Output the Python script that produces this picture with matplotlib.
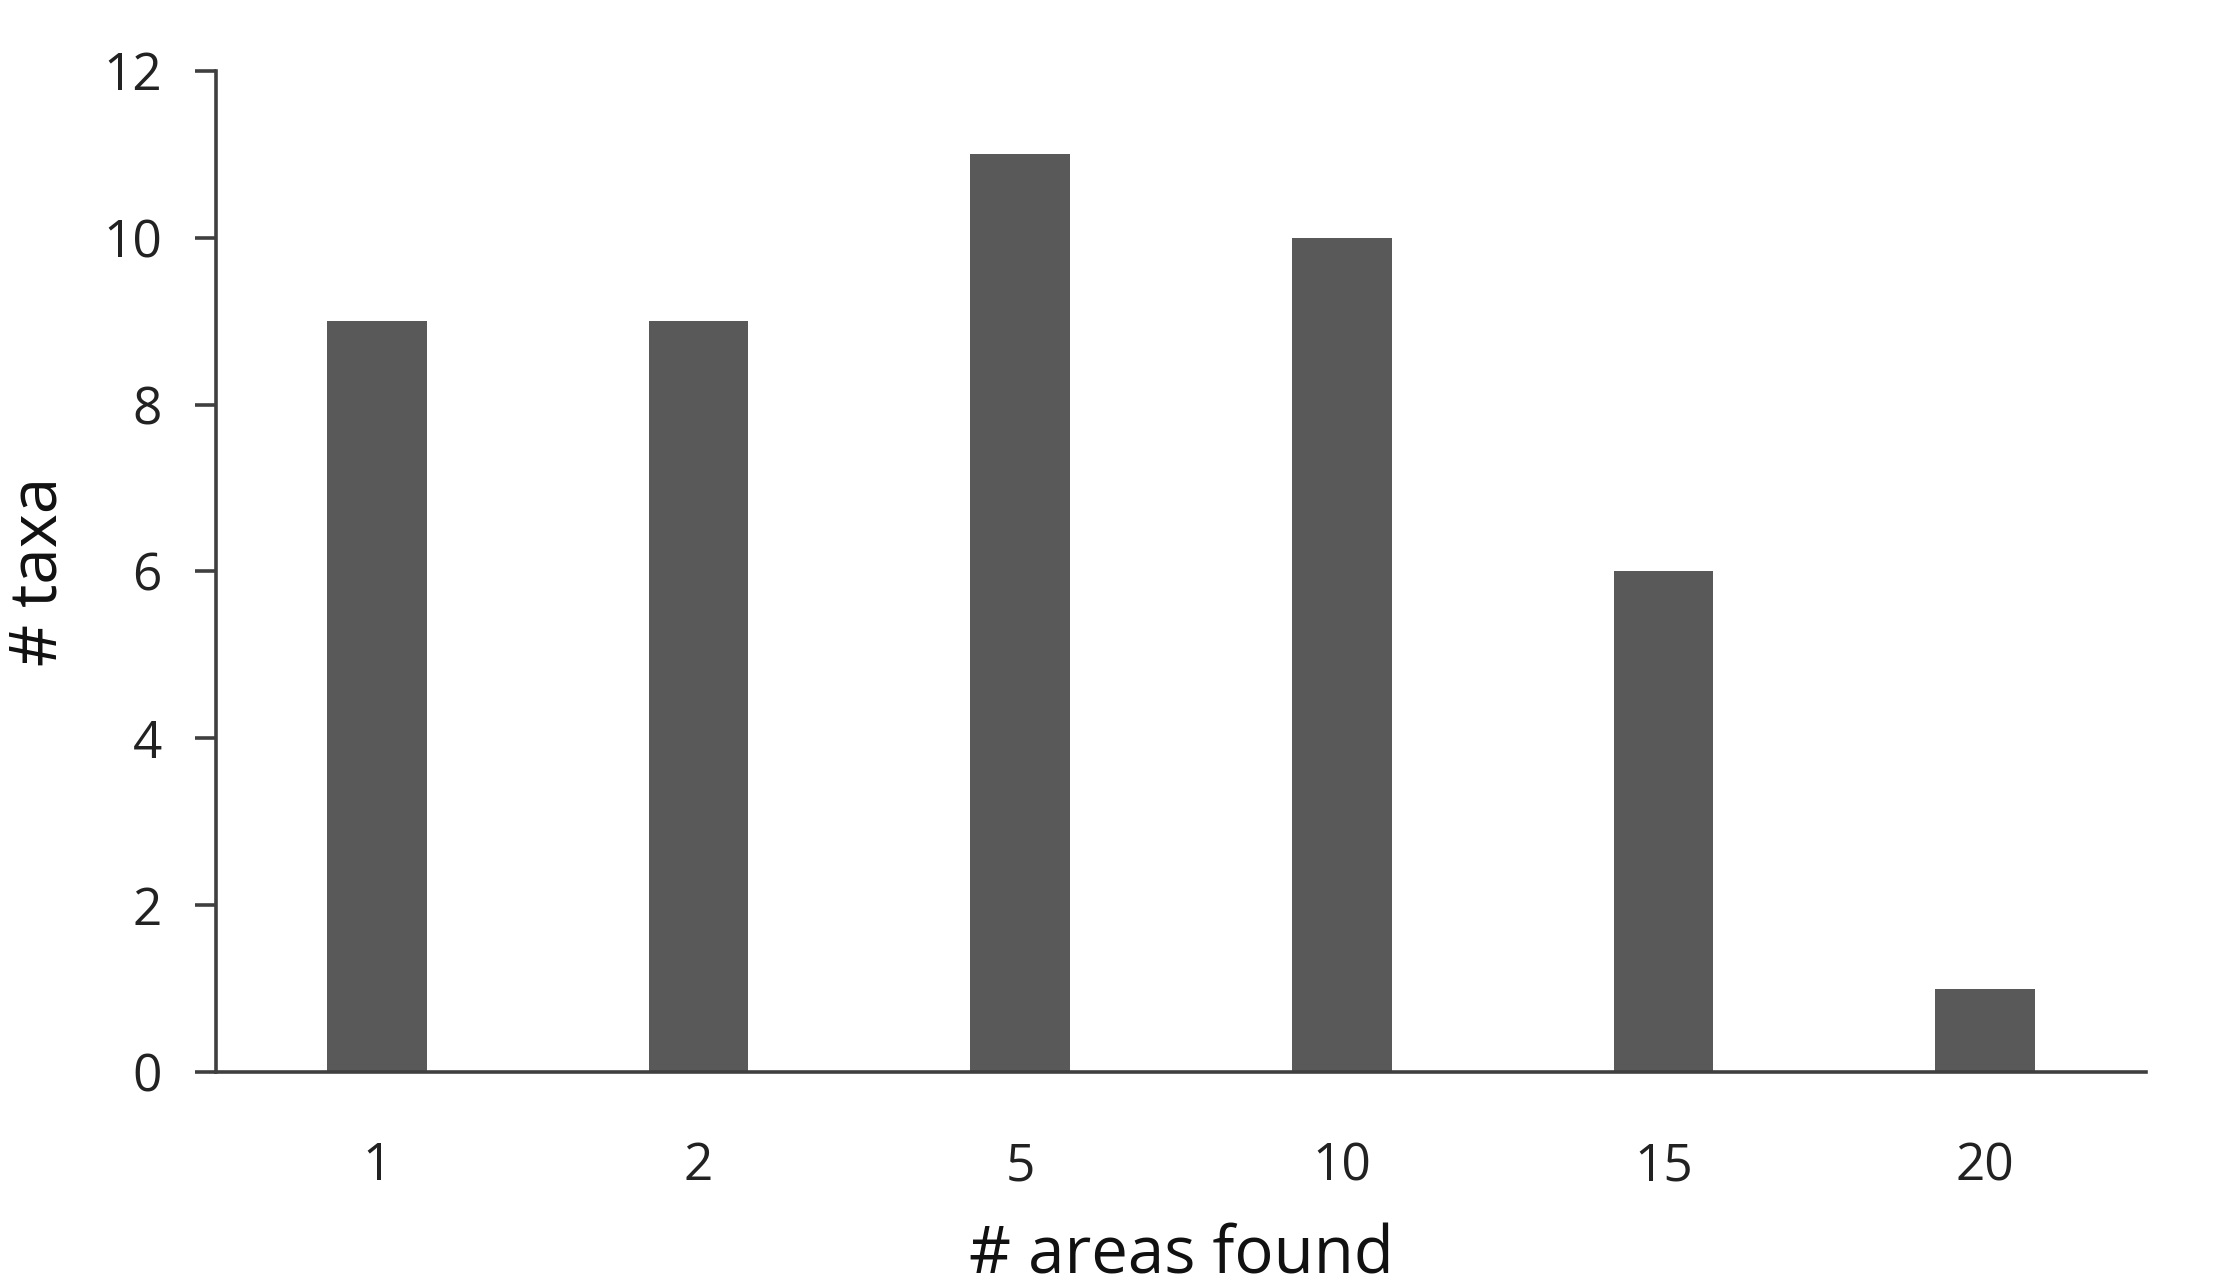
import numpy as np
import matplotlib
matplotlib.use('Agg')
import matplotlib.pyplot as plt

plt.rcParams['font.family'] = ['Open Sans', 'DejaVu Sans']

areas = ['1', '2', '5', '10', '15', '20']
taxa = [9, 9, 11, 10, 6, 1]
y_ticks = [0, 2, 4, 6, 8, 10, 12]

BAR_COLOR = '#595959'
AXIS_COLOR = '#3f3f3f'

fig = plt.figure(figsize=(22.17, 12.88), dpi=100)
ax = fig.add_axes([0.0974, 0.1677, 0.8706, 0.7772])

x = np.arange(len(areas))
ax.bar(x, taxa, width=0.31, color=BAR_COLOR, zorder=2)

ax.set_xlim(-0.5, len(areas) - 0.5)
ax.set_ylim(0, 12)
ax.set_xticks(x)
ax.set_xticklabels(areas)
ax.set_yticks(y_ticks)

for s in ['top', 'right']:
    ax.spines[s].set_visible(False)
for s in ['left', 'bottom']:
    ax.spines[s].set_color(AXIS_COLOR)
    ax.spines[s].set_linewidth(2.6)
    ax.spines[s].set_zorder(3)

ax.tick_params(axis='x', length=0, pad=50, labelsize=37, labelcolor='#222222')
ax.tick_params(axis='y', length=15, width=2.6, color=AXIS_COLOR, pad=24,
               labelsize=37, labelcolor='#222222')

ax.set_xlabel('# areas found', fontsize=47, labelpad=22, color='#111111')
ax.set_ylabel('# taxa', fontsize=47, labelpad=22, color='#111111')

plt.savefig('out.png', dpi=100)
